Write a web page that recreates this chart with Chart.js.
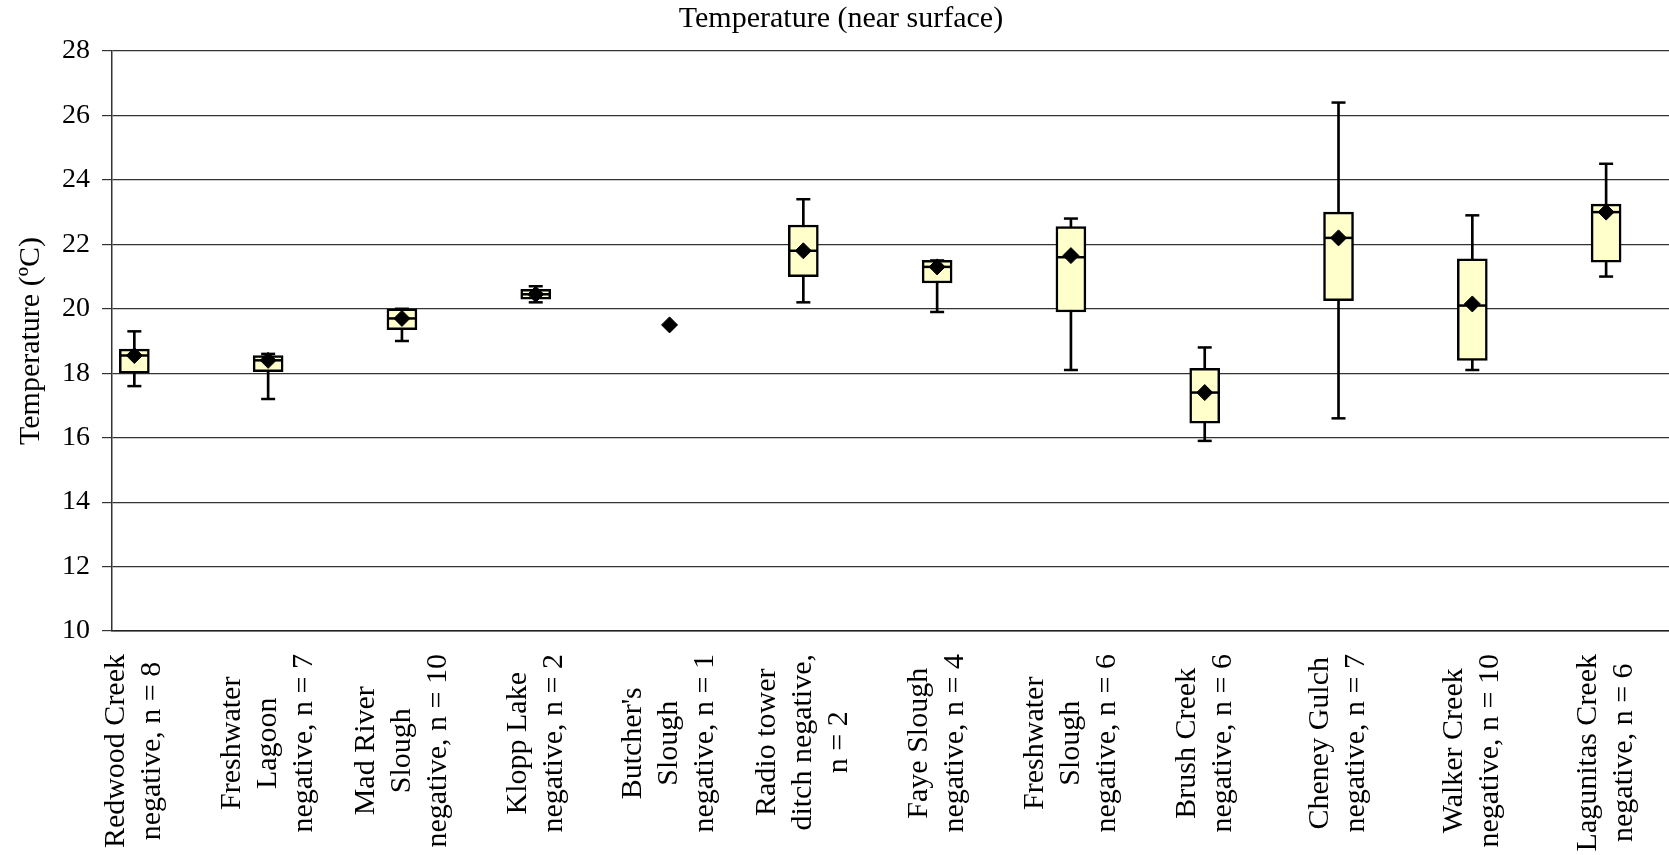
<!DOCTYPE html>
<html>
<head>
<meta charset="utf-8">
<script src="https://cdn.jsdelivr.net/npm/chart.js@4.4.1/dist/chart.umd.min.js"></script>
<style>
  body { margin: 0; background: #fff; }
  #wrap { width: 1669px; height: 855px; }
</style>
</head>
<body>
<div id="wrap"><canvas id="tempChart" width="1669" height="855"></canvas></div>
<script>
// site labels, one entry per line of the rotated axis text
const siteLabels = [
    ['Redwood Creek', 'negative, n = 8'],
    ['Freshwater', 'Lagoon', 'negative, n = 7'],
    ['Mad River', 'Slough', 'negative, n = 10'],
    ['Klopp Lake', 'negative, n = 2'],
    ["Butcher's", 'Slough', 'negative, n = 1'],
    ['Radio tower', 'ditch negative,', 'n = 2'],
    ['Faye Slough', 'negative, n = 4'],
    ['Freshwater', 'Slough', 'negative, n = 6'],
    ['Brush Creek', 'negative, n = 6'],
    ['Cheney Gulch', 'negative, n = 7'],
    ['Walker Creek', 'negative, n = 10'],
    ['Lagunitas Creek', 'negative, n = 6']
];

// box plot values (°C); Butcher's Slough has a single sample, so only the mean
const minVals    = [17.6, 17.2, 19.0, 20.2, null, 20.2, 19.9, 18.1, 15.9, 16.6, 18.1, 21.0];
const q1Vals     = [18.0, 18.05, 19.35, 20.3, null, 21.0, 20.8, 19.9, 16.45, 20.25, 18.4, 21.45];
const medianVals = [18.55, 18.4, 19.7, 20.45, null, 21.8, 21.3, 21.6, 17.4, 22.2, 20.1, 23.0];
const q3Vals     = [18.75, 18.55, 20.0, 20.6, null, 22.6, 21.5, 22.55, 18.15, 23.0, 21.55, 23.25];
const maxVals    = [19.3, 18.6, 20.0, 20.7, null, 23.4, 21.5, 22.8, 18.8, 26.4, 22.9, 24.5];
const meanVals   = [18.55, 18.4, 19.7, 20.45, 19.5, 21.8, 21.3, 21.65, 17.4, 22.2, 20.15, 23.0];

const yMin = 10;
const yMax = 28;
const yStep = 2;

const FONT = "'Liberation Serif', 'Times New Roman', serif";

function pts(vals) {
    const out = [];
    vals.forEach((v, i) => { if (v !== null) out.push({ x: i, y: v }); });
    return out;
}

function ranges(lo, hi) {
    const out = [];
    lo.forEach((v, i) => { if (v !== null && hi[i] !== null) out.push({ x: i, y: [v, hi[i]] }); });
    return out;
}

// draws the wrapped, rotated site names under the axis
const siteLabelPlugin = {
    id: 'siteLabels',
    afterDraw(chart) {
        const ctx = chart.ctx;
        const xScale = chart.scales.x;
        const top = chart.chartArea.bottom + 23;
        const lineH = 36;
        ctx.save();
        ctx.font = '30px ' + FONT;
        ctx.fillStyle = '#000';
        ctx.textAlign = 'center';
        ctx.textBaseline = 'middle';
        siteLabels.forEach((lines, i) => {
            const px = xScale.getPixelForValue(i);
            const maxW = Math.max(...lines.map(l => ctx.measureText(l).width));
            lines.forEach((line, j) => {
                const x = px + (j - (lines.length - 1) / 2) * lineH;
                ctx.save();
                ctx.translate(x, top + maxW / 2);
                ctx.rotate(-Math.PI / 2);
                ctx.fillText(line, 0, 0);
                ctx.restore();
            });
        });
        ctx.restore();
    }
};

const ctx = document.getElementById('tempChart').getContext('2d');
new Chart(ctx, {
    type: 'bar',
    data: {
        datasets: [
            {   // mean marker
                type: 'scatter',
                data: pts(meanVals),
                pointStyle: 'rectRot',
                pointRadius: 8,
                pointBackgroundColor: '#000',
                pointBorderColor: '#000',
                pointBorderWidth: 1,
                order: 1
            },
            {   // median line
                type: 'scatter',
                data: pts(medianVals),
                pointStyle: 'line',
                pointRadius: 14,
                pointBorderColor: '#000',
                pointBorderWidth: 2.5,
                order: 2
            },
            {   // whisker caps
                type: 'scatter',
                data: pts(minVals).concat(pts(maxVals)),
                pointStyle: 'line',
                pointRadius: 7,
                pointBorderColor: '#000',
                pointBorderWidth: 2.5,
                order: 2
            },
            {   // box q1..q3
                data: ranges(q1Vals, q3Vals),
                backgroundColor: '#FFFFCC',
                borderColor: '#000',
                borderWidth: 2.5,
                borderSkipped: false,
                barThickness: 30,
                grouped: false,
                order: 3
            },
            {   // whisker min..max
                data: ranges(minVals, maxVals),
                backgroundColor: '#000',
                borderWidth: 0,
                barThickness: 2,
                grouped: false,
                order: 4
            }
        ]
    },
    options: {
        responsive: false,
        animation: false,
        layout: { padding: { left: 13, right: 0, top: 0, bottom: 0 }, autoPadding: false },
        plugins: {
            legend: { display: false },
            tooltip: { enabled: false },
            title: {
                display: true,
                text: 'Temperature (near surface)',
                color: '#000',
                font: { family: FONT, size: 30, weight: 'normal' },
                padding: { top: 1, bottom: 14 }
            }
        },
        scales: {
            x: {
                type: 'linear',
                min: -0.167,
                max: 11.47,
                offset: false,
                grid: { display: false },
                border: { display: true, color: '#222', width: 1.5 },
                ticks: { display: false },
                afterFit(scale) { scale.height = 224; }
            },
            y: {
                min: yMin,
                max: yMax,
                grid: { color: '#333', lineWidth: 1.2, tickLength: 10 },
                border: { display: true, color: '#333', width: 1.5 },
                ticks: {
                    stepSize: yStep,
                    color: '#000',
                    padding: 12,
                    font: { family: FONT, size: 28 }
                },
                title: {
                    display: true,
                    text: 'Temperature (ºC)',
                    color: '#000',
                    font: { family: FONT, size: 30 },
                    padding: { top: 0, bottom: 0 }
                },
                afterFit(scale) { scale.width = 99; }
            }
        }
    },
    plugins: [siteLabelPlugin]
});
</script>
</body>
</html>
